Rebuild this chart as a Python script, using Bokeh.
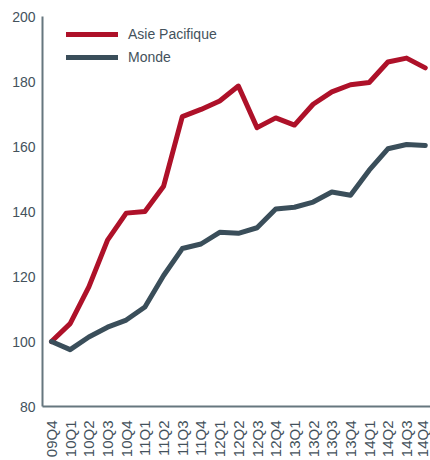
from bokeh.plotting import figure
from bokeh.models import Legend, LegendItem, FixedTicker, ColumnDataSource
from bokeh.embed import file_html
from bokeh.resources import INLINE
import math

quarters = ["09Q4", "10Q1", "10Q2", "10Q3", "10Q4", "11Q1", "11Q2", "11Q3", "11Q4",
            "12Q1", "12Q2", "12Q3", "12Q4", "13Q1", "13Q2", "13Q3", "13Q4",
            "14Q1", "14Q2", "14Q3", "14Q4"]
asie_pacifique = [100, 105.5, 116.8, 131.2, 139.5, 140.0, 147.8, 169.2, 171.4,
                  174.0, 178.6, 165.8, 168.8, 166.6, 173.0, 176.8, 179.0,
                  179.7, 186.0, 187.2, 184.2]
monde = [100, 97.5, 101.4, 104.4, 106.6, 110.6, 120.3, 128.6, 130.0,
         133.6, 133.3, 135.0, 140.8, 141.3, 142.9, 146.0, 145.0,
         152.7, 159.3, 160.6, 160.3]
y_ticks = [80, 100, 120, 140, 160, 180, 200]

red = "#ae1129"
dark = "#3a4e5a"
axis_col = "#66777f"
text_col = "#44525c"
font = "Liberation Sans"

idx = list(range(len(quarters)))
src = ColumnDataSource(dict(x=idx, ap=asie_pacifique, mo=monde))

p = figure(width=430, height=460, output_backend="svg", toolbar_location=None,
           x_range=(-0.48, 20.28), y_range=(80, 200),
           min_border_left=42, min_border_right=0, min_border_top=16, min_border_bottom=53)
p.outline_line_color = None
p.xgrid.visible = False
p.ygrid.visible = False
p.background_fill_color = "white"
p.border_fill_color = "white"

r1 = p.line("x", "ap", source=src, line_color=red, line_width=5, line_join="round", line_cap="round")
r2 = p.line("x", "mo", source=src, line_color=dark, line_width=5, line_join="round", line_cap="round")

for ax in (p.xaxis[0], p.yaxis[0]):
    ax.axis_line_color = axis_col
    ax.axis_line_width = 2
    ax.major_tick_line_color = None
    ax.minor_tick_line_color = None
    ax.major_tick_out = 0
    ax.major_tick_in = 0
    ax.major_label_text_font = font
    ax.major_label_text_font_size = "14px"
    ax.major_label_text_color = text_col

p.yaxis[0].ticker = FixedTicker(ticks=y_ticks)
p.yaxis[0].major_label_standoff = 7
p.xaxis[0].ticker = FixedTicker(ticks=idx)
p.xaxis[0].major_label_overrides = {i: q for i, q in zip(idx, quarters)}
p.xaxis[0].major_label_orientation = math.pi / 2
p.xaxis[0].major_label_text_font_size = "15px"
p.xaxis[0].major_label_standoff = 14

legend = Legend(items=[LegendItem(label="Asie Pacifique", renderers=[r1]),
                       LegendItem(label="Monde", renderers=[r2])],
                location=(24, 339), padding=0, margin=0, spacing=3,
                glyph_width=52, glyph_height=20, label_standoff=10,
                label_text_font=font, label_text_font_size="14px",
                label_text_color=text_col, border_line_color=None,
                background_fill_alpha=0)
p.add_layout(legend)

open("out.html", "w").write(file_html(p, INLINE))
